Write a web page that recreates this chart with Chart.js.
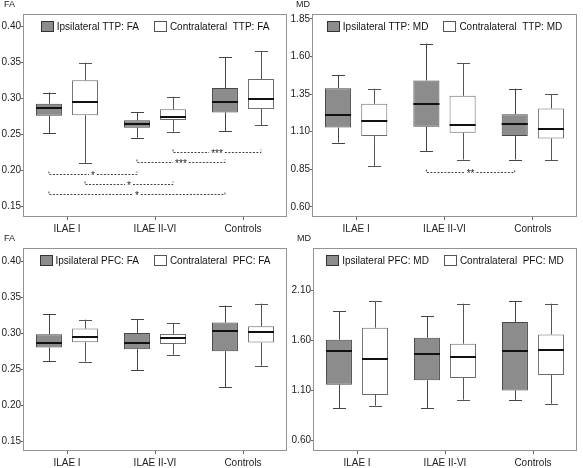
<!DOCTYPE html>
<html>
<head>
<meta charset="utf-8">
<script src="https://cdn.jsdelivr.net/npm/chart.js@4.4.1/dist/chart.umd.min.js"></script>
<style>
body { margin: 0; background: #fff; }
#wrap { position: relative; width: 583px; height: 468px; }
canvas { position: absolute; }
</style>
</head>
<body>
<div id="wrap">
  <canvas id="ttpFa" width="290" height="234" style="left:0;top:0"></canvas>
  <canvas id="ttpMd" width="293" height="234" style="left:290px;top:0"></canvas>
  <canvas id="pfcFa" width="290" height="234" style="left:0;top:234px"></canvas>
  <canvas id="pfcMd" width="293" height="234" style="left:290px;top:234px"></canvas>
</div>
<script>
const groups = ["ILAE I", "ILAE II-VI", "Controls"];

// box stats per group: [min, q1, median, q3, max]
const ttpFaIpsi   = [[0.252, 0.276, 0.286, 0.2925, 0.308], [0.2455, 0.2593, 0.2644, 0.2695, 0.281], [0.2547, 0.2805, 0.2944, 0.3142, 0.3566]];
const ttpFaContra = [[0.210, 0.2764, 0.2948, 0.3248, 0.3493], [0.2538, 0.2699, 0.2736, 0.2847, 0.3022], [0.2625, 0.2851, 0.2985, 0.3267, 0.3649]];
const ttpMdIpsi   = [[1.028, 1.128, 1.211, 1.390, 1.479], [0.969, 1.133, 1.282, 1.441, 1.686], [0.915, 1.071, 1.153, 1.217, 1.386]];
const ttpMdContra = [[0.871, 1.071, 1.173, 1.286, 1.386], [0.915, 1.093, 1.148, 1.339, 1.557], [0.909, 1.055, 1.115, 1.255, 1.350]];
const pfcFaIpsi   = [[0.262, 0.2806, 0.2866, 0.2991, 0.3269], [0.2491, 0.2782, 0.2875, 0.3009, 0.3199], [0.2255, 0.2755, 0.3032, 0.3153, 0.3389]];
const pfcFaContra = [[0.2611, 0.2880, 0.2958, 0.3069, 0.3194], [0.2704, 0.2856, 0.2944, 0.2995, 0.3144], [0.2551, 0.2875, 0.3028, 0.3102, 0.3417]];
const pfcMdIpsi   = [[0.921, 1.158, 1.492, 1.609, 1.893], [0.921, 1.202, 1.469, 1.629, 1.843], [1.008, 1.101, 1.492, 1.786, 1.993]];
const pfcMdContra = [[0.948, 1.055, 1.419, 1.729, 1.993], [1.008, 1.225, 1.439, 1.569, 1.970], [0.968, 1.255, 1.502, 1.662, 1.970]];

// tick labels
const faTicks = [0.15, 0.20, 0.25, 0.30, 0.35, 0.40];
const ttpMdTicks = [0.60, 0.85, 1.10, 1.35, 1.60, 1.85];
const pfcMdTicks = [0.60, 1.10, 1.60, 2.10];

// significance brackets: [series, group] -> [series, group], level, stars
const ttpFaSig = [
  [[0, 0], [0, 1], 0.1947, "*"],
  [[1, 0], [1, 1], 0.1809, "*"],
  [[0, 0], [0, 2], 0.1671, "*"],
  [[0, 1], [0, 2], 0.2123, "***"],
  [[1, 1], [1, 2], 0.2252, "***"]
];
const ttpMdSig = [
  [[0, 1], [0, 2], 0.829, "**"]
];

const FONT = "'Liberation Sans', Arial, Helvetica, sans-serif";
Chart.defaults.font.family = FONT;
Chart.defaults.color = "#222";

// frame, whiskers, medians, legend, brackets, axis title
const boxPlugin = {
  id: "boxes",
  beforeDatasetsDraw(chart) {
    const a = chart.chartArea, ctx = chart.ctx;
    ctx.save();
    ctx.strokeStyle = "#939393";
    ctx.lineWidth = 1;
    ctx.strokeRect(Math.round(a.left) + 0.5, Math.round(a.top) + 0.5, Math.round(a.right - a.left) - 1, Math.round(a.bottom - a.top) - 1);
    ctx.restore();
  },
  afterDatasetsDraw(chart, args, opts) {
    const ctx = chart.ctx, y = chart.scales.y, a = chart.chartArea;
    ctx.save();
    chart.data.datasets.forEach((ds, d) => {
      chart.getDatasetMeta(d).data.forEach((bar, i) => {
        const s = ds.stats[i];
        const x = Math.round(bar.x) + 0.5, w = bar.width;
        ctx.strokeStyle = ds.whisker;
        ctx.lineWidth = 1;
        ctx.beginPath();
        ctx.moveTo(x, y.getPixelForValue(s[0]));
        ctx.lineTo(x, y.getPixelForValue(s[1]));
        ctx.moveTo(x, y.getPixelForValue(s[3]));
        ctx.lineTo(x, y.getPixelForValue(s[4]));
        const lo = Math.round(y.getPixelForValue(s[0])) + 0.5;
        const hi = Math.round(y.getPixelForValue(s[4])) + 0.5;
        ctx.moveTo(x - w / 4, lo); ctx.lineTo(x + w / 4, lo);
        ctx.moveTo(x - w / 4, hi); ctx.lineTo(x + w / 4, hi);
        ctx.stroke();
        ctx.strokeStyle = "#111";
        ctx.lineWidth = 2;
        const m = Math.round(y.getPixelForValue(s[2]));
        ctx.beginPath();
        ctx.moveTo(bar.x - w / 2, m); ctx.lineTo(bar.x + w / 2, m);
        ctx.stroke();
      });
    });

    // legend inside the frame
    ctx.font = "10px " + FONT;
    ctx.textBaseline = "middle";
    const items = chart.data.datasets.map(ds => ({ ds, tw: ctx.measureText(ds.label).width }));
    const total = items.reduce((t, it) => t + 12 + 4 + it.tw, 0) + 15 * (items.length - 1);
    let lx = (a.left + a.right) / 2 - total / 2;
    const ly = a.top + 12.5;
    items.forEach(it => {
      const bx = Math.round(lx) + 0.5;
      ctx.fillStyle = it.ds.backgroundColor;
      ctx.fillRect(bx, ly - 5, 12, 10);
      ctx.strokeStyle = it.ds.legendBorder;
      ctx.lineWidth = 1;
      ctx.strokeRect(bx, ly - 5, 12, 10);
      ctx.fillStyle = "#111";
      ctx.textAlign = "left";
      ctx.fillText(it.ds.label, lx + 16, ly + 0.5);
      lx += 12 + 4 + it.tw + 15;
    });

    // significance brackets
    (opts.sig || []).forEach(b => {
      const x1 = chart.getDatasetMeta(b[0][0]).data[b[0][1]].x;
      const x2 = chart.getDatasetMeta(b[1][0]).data[b[1][1]].x;
      const yy = Math.round(y.getPixelForValue(b[2])) + 0.5;
      const mid = (x1 + x2) / 2;
      ctx.font = "10px " + FONT;
      const gap = ctx.measureText(b[3]).width / 2 + 2;
      ctx.strokeStyle = "#444";
      ctx.lineWidth = 1;
      ctx.setLineDash([2, 1.5]);
      ctx.beginPath();
      ctx.moveTo(x1, yy - 3); ctx.lineTo(x1, yy); ctx.lineTo(mid - gap, yy);
      ctx.moveTo(mid + gap, yy); ctx.lineTo(x2, yy); ctx.lineTo(x2, yy - 3);
      ctx.stroke();
      ctx.setLineDash([]);
      ctx.fillStyle = "#222";
      ctx.textAlign = "center";
      ctx.textBaseline = "middle";
      ctx.fillText(b[3], mid, yy + 2);
    });

    // axis title above the y axis
    ctx.font = "9px " + FONT;
    ctx.fillStyle = "#222";
    ctx.textAlign = "left";
    ctx.textBaseline = "middle";
    ctx.fillText(opts.title, opts.titleX, 5);
    ctx.restore();
  }
};

function makePanel(id, title, titleX, names, ipsi, contra, yMin, yMax, ticks, sig, axisW, padRight) {
  return new Chart(document.getElementById(id), {
    type: "bar",
    data: {
      labels: groups,
      datasets: [
        {
          label: names[0], data: ipsi.map(s => [s[1], s[3]]), stats: ipsi,
          backgroundColor: "#8c8c8c", borderColor: "#474747", legendBorder: "#333",
          whisker: "#444", borderWidth: 1, borderSkipped: false
        },
        {
          label: names[1], data: contra.map(s => [s[1], s[3]]), stats: contra,
          backgroundColor: "#ffffff", borderColor: "#6a6a6a", legendBorder: "#555",
          whisker: "#555", borderWidth: 1, borderSkipped: false
        }
      ]
    },
    options: {
      responsive: false,
      animation: false,
      devicePixelRatio: 1,
      barPercentage: 0.72,
      categoryPercentage: 0.82,
      layout: { padding: { left: 0, right: padRight, top: 14, bottom: 0 } },
      plugins: {
        legend: { display: false },
        tooltip: { enabled: false },
        title: { display: false },
        boxes: { sig: sig, title: title, titleX: titleX }
      },
      scales: {
        x: {
          border: { display: false },
          grid: { display: true, drawOnChartArea: false, offset: false, tickLength: 3, color: "#666" },
          ticks: { font: { size: 10 }, padding: 3, color: "#222", maxRotation: 0 },
          afterFit(s) { s.height = 17; }
        },
        y: {
          min: yMin, max: yMax,
          border: { display: false },
          grid: { display: true, drawOnChartArea: false, tickLength: 2, color: "#666" },
          ticks: { font: { size: 10 }, padding: 0, color: "#222", callback: v => v.toFixed(2) },
          afterBuildTicks(s) { s.ticks = ticks.map(v => ({ value: v })); },
          afterFit(s) { s.width = axisW; }
        }
      }
    },
    plugins: [boxPlugin]
  });
}

makePanel("ttpFa", "FA", 4, ["Ipsilateral TTP: FA", "Contralateral  TTP: FA"], ttpFaIpsi, ttpFaContra, 0.1358, 0.4166, faTicks, ttpFaSig, 23, 3);
makePanel("ttpMd", "MD", 6, ["Ipsilateral TTP: MD", "Contralateral  TTP: MD"], ttpMdIpsi, ttpMdContra, 0.533, 1.883, ttpMdTicks, ttpMdSig, 22, 6);
makePanel("pfcFa", "FA", 4, ["Ipsilateral PFC: FA", "Contralateral  PFC: FA"], pfcFaIpsi, pfcFaContra, 0.1367, 0.419, faTicks, [], 23, 3);
makePanel("pfcMd", "MD", 7, ["Ipsilateral PFC: MD", "Contralateral  PFC: MD"], pfcMdIpsi, pfcMdContra, 0.494, 2.528, pfcMdTicks, [], 23, 6);
</script>
</body>
</html>
